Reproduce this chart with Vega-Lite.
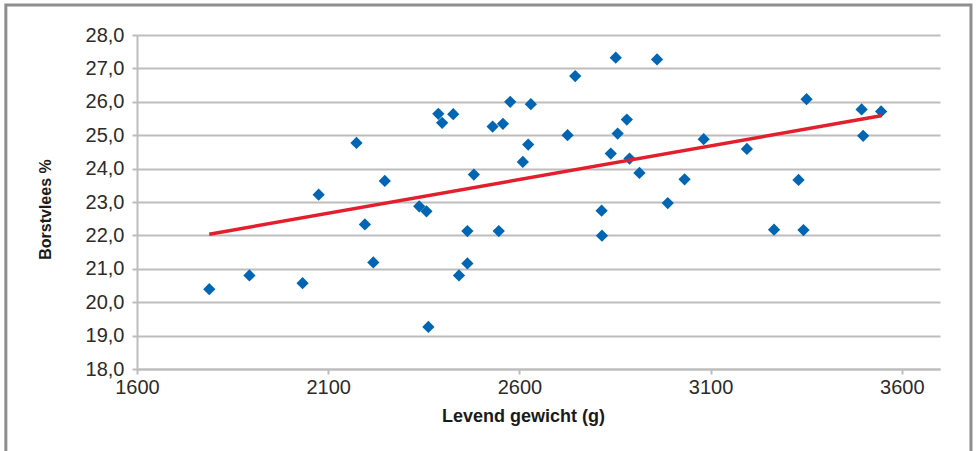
{
  "$schema": "https://vega.github.io/schema/vega-lite/v6.json",
  "width": 803,
  "height": 334,
  "autosize": {"type": "none"},
  "padding": {"left": 137, "top": 35, "right": 38, "bottom": 82},
  "background": "white",
  "config": {
    "locale": {"number": {"decimal": ",", "thousands": ".", "grouping": [3], "currency": ["€ ", ""]}},
    "view": {"stroke": null},
    "axis": {
      "labelFont": "Liberation Sans",
      "labelFontSize": 20,
      "labelColor": "#2b2b2b",
      "labelOverlap": false,
      "labelFlush": false,
      "domainColor": "#bdbdbd",
      "domainWidth": 2,
      "tickColor": "#bdbdbd",
      "tickWidth": 2,
      "tickSize": 5,
      "gridColor": "#bdbdbd",
      "gridWidth": 2,
      "titleColor": "#1a1a1a"
    }
  },
  "data": {"values": [
    {"gewicht": 1789, "borstvlees": 20.39},
    {"gewicht": 1894, "borstvlees": 20.80},
    {"gewicht": 2033, "borstvlees": 20.57},
    {"gewicht": 2075, "borstvlees": 23.22},
    {"gewicht": 2196, "borstvlees": 22.33},
    {"gewicht": 2218, "borstvlees": 21.19},
    {"gewicht": 2248, "borstvlees": 23.63},
    {"gewicht": 2338, "borstvlees": 22.87},
    {"gewicht": 2357, "borstvlees": 22.72},
    {"gewicht": 2362, "borstvlees": 19.26},
    {"gewicht": 2442, "borstvlees": 20.80},
    {"gewicht": 2464, "borstvlees": 22.13},
    {"gewicht": 2464, "borstvlees": 21.16},
    {"gewicht": 2546, "borstvlees": 22.13},
    {"gewicht": 2174, "borstvlees": 24.77},
    {"gewicht": 2388, "borstvlees": 25.64},
    {"gewicht": 2398, "borstvlees": 25.37},
    {"gewicht": 2427, "borstvlees": 25.63},
    {"gewicht": 2481, "borstvlees": 23.82},
    {"gewicht": 2530, "borstvlees": 25.26},
    {"gewicht": 2557, "borstvlees": 25.34},
    {"gewicht": 2576, "borstvlees": 26.00},
    {"gewicht": 2630, "borstvlees": 25.93},
    {"gewicht": 2623, "borstvlees": 24.72},
    {"gewicht": 2609, "borstvlees": 24.20},
    {"gewicht": 2746, "borstvlees": 26.77},
    {"gewicht": 2726, "borstvlees": 25.00},
    {"gewicht": 2852, "borstvlees": 27.32},
    {"gewicht": 2960, "borstvlees": 27.27},
    {"gewicht": 2881, "borstvlees": 25.47},
    {"gewicht": 2857, "borstvlees": 25.05},
    {"gewicht": 2839, "borstvlees": 24.45},
    {"gewicht": 2888, "borstvlees": 24.30},
    {"gewicht": 2914, "borstvlees": 23.87},
    {"gewicht": 3032, "borstvlees": 23.68},
    {"gewicht": 3082, "borstvlees": 24.88},
    {"gewicht": 3195, "borstvlees": 24.59},
    {"gewicht": 2988, "borstvlees": 22.97},
    {"gewicht": 2815, "borstvlees": 22.74},
    {"gewicht": 3330, "borstvlees": 23.66},
    {"gewicht": 3351, "borstvlees": 26.08},
    {"gewicht": 3495, "borstvlees": 25.77},
    {"gewicht": 3546, "borstvlees": 25.71},
    {"gewicht": 3499, "borstvlees": 24.98},
    {"gewicht": 2816, "borstvlees": 21.99},
    {"gewicht": 3266, "borstvlees": 22.17},
    {"gewicht": 3343, "borstvlees": 22.16}
  ]},
  "layer": [
    {
      "mark": {"type": "point", "shape": "diamond", "filled": true, "color": "#0065b3", "opacity": 1, "size": 150},
      "encoding": {
        "x": {
          "field": "gewicht", "type": "quantitative",
          "scale": {"domain": [1600, 3700], "nice": false, "zero": false},
          "axis": {
            "title": "Levend gewicht (g)",
            "values": [1600, 2100, 2600, 3100, 3600],
            "format": "d",
            "grid": false,
            "labelPadding": 3,
            "titleFont": "Liberation Sans",
            "titleFontSize": 18,
            "titleFontWeight": "bold",
            "titleX": 386,
            "titleY": 38,
            "titleBaseline": "top"
          }
        },
        "y": {
          "field": "borstvlees", "type": "quantitative",
          "scale": {"domain": [18, 28], "nice": false, "zero": false},
          "axis": {
            "title": "Borstvlees  %",
            "values": [18, 19, 20, 21, 22, 23, 24, 25, 26, 27, 28],
            "tickCount": 11,
            "format": ".1f",
            "grid": true,
            "labelPadding": 8,
            "titleFont": "Liberation Sans",
            "titleFontSize": 16,
            "titleFontWeight": "bold",
            "titleX": -84,
            "titleY": 174,
            "titleAngle": -90,
            "titleBaseline": "bottom",
            "titleAlign": "center"
          }
        }
      }
    },
    {
      "transform": [{"regression": "borstvlees", "on": "gewicht"}],
      "mark": {"type": "line", "color": "#e31e2d", "strokeWidth": 3.5},
      "encoding": {
        "x": {"field": "gewicht", "type": "quantitative"},
        "y": {"field": "borstvlees", "type": "quantitative"}
      }
    },
    {
      "data": {"values": [{}]},
      "mark": {"type": "rect", "fill": null, "stroke": "#8e8e8e", "strokeWidth": 3, "clip": false},
      "encoding": {
        "x": {
          "datum": 1257, "type": "quantitative",
          "axis": {
            "title": "Levend gewicht (g)",
            "values": [1600, 2100, 2600, 3100, 3600],
            "format": "d",
            "grid": false
          }
        },
        "x2": {"datum": 3781},
        "y": {
          "datum": 28.9, "type": "quantitative",
          "axis": {
            "title": "Borstvlees  %",
            "values": [18, 19, 20, 21, 22, 23, 24, 25, 26, 27, 28],
            "tickCount": 11,
            "format": ".1f",
            "grid": true
          }
        },
        "y2": {"datum": 15.49}
      }
    }
  ]
}
